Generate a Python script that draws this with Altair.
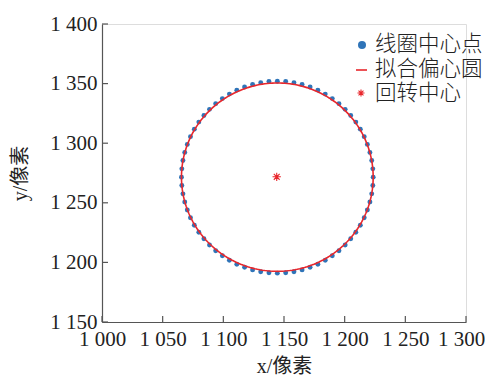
import altair as alt
import pandas as pd
import numpy as np

# 线圈中心点 (coil centre points)
pts_x = [1223.5, 1223.2, 1222.3, 1220.8, 1218.7, 1216.1, 1212.9, 1209.2, 1205.0, 1200.4,
         1195.3, 1189.8, 1184.0, 1177.9, 1171.5, 1164.9, 1158.2, 1151.4,
         1144.5, 1137.6, 1130.8, 1124.1, 1117.5, 1111.1, 1105.0, 1099.2, 1093.7,
         1088.6, 1084.0, 1079.8, 1076.1, 1072.9, 1070.3, 1068.2, 1066.7, 1065.8,
         1065.5, 1065.8, 1066.7, 1068.2, 1070.3, 1072.9, 1076.1, 1079.8, 1084.0,
         1088.6, 1093.7, 1099.2, 1105.0, 1111.1, 1117.5, 1124.1, 1130.8, 1137.6,
         1144.5, 1151.4, 1158.2, 1164.9, 1171.5, 1177.9, 1184.0, 1189.8, 1195.3,
         1200.4, 1205.0, 1209.2, 1212.9, 1216.1, 1218.7, 1220.8, 1222.3, 1223.2]
pts_y = [1271.5, 1278.5, 1285.5, 1292.3, 1299.0, 1305.5, 1311.8, 1317.7, 1323.2, 1328.4,
         1333.2, 1337.4, 1341.2, 1344.5, 1347.1, 1349.3, 1350.8, 1351.7,
         1352.0, 1351.7, 1350.8, 1349.3, 1347.1, 1344.5, 1341.2, 1337.4, 1333.2,
         1328.4, 1323.2, 1317.7, 1311.8, 1305.5, 1299.0, 1292.3, 1285.5, 1278.5,
         1271.5, 1264.5, 1257.5, 1250.7, 1244.0, 1237.5, 1231.2, 1225.3, 1219.8,
         1214.6, 1209.8, 1205.6, 1201.8, 1198.5, 1195.9, 1193.7, 1192.2, 1191.3,
         1191.0, 1191.3, 1192.2, 1193.7, 1195.9, 1198.5, 1201.8, 1205.6, 1209.8,
         1214.6, 1219.8, 1225.3, 1231.2, 1237.5, 1244.0, 1250.7, 1257.5, 1264.5]

# 拟合偏心圆 (fitted circle) parameters
fit_cx = 1144.5
fit_cy = 1271.5
fit_r = 79.0

# 回转中心 (rotation centre)
rot_x = [1144.0]
rot_y = [1271.8]

x_ticks = [1000, 1050, 1100, 1150, 1200, 1250, 1300]
y_ticks = [1150, 1200, 1250, 1300, 1350, 1400]
legend_labels = ["线圈中心点", "拟合偏心圆", "回转中心"]

BLUE = "#2f74b8"
RED = "#e8272c"
AXC = "#555555"
TXT = "#222222"
FONT = "Liberation Serif, Noto Sans CJK SC"
W, H = 364, 298

pts = pd.DataFrame({"x": pts_x, "y": pts_y})
t = np.linspace(0, 2 * np.pi, 241)
circ = pd.DataFrame({"x": fit_cx + fit_r * np.cos(t), "y": fit_cy + fit_r * np.sin(t), "i": np.arange(len(t))})
rot = pd.DataFrame({"x": rot_x, "y": rot_y})
xt = pd.DataFrame({"v": x_ticks})
yt = pd.DataFrame({"v": y_ticks})

label_expr = "replace(format(datum.value, ','), ',', ' ')"

xscale = alt.Scale(domain=[1000, 1300], nice=False, zero=False)
yscale = alt.Scale(domain=[1150, 1400], nice=False, zero=False)

xaxis = alt.Axis(values=x_ticks, labelExpr=label_expr, ticks=False, tickSize=0, grid=False,
                 labelOverlap=False, labelFlush=False,
                 labelOffset={"condition": {"test": "datum.value == 1300", "value": -5}, "value": 0},
                 domainColor=AXC, domainWidth=1.2, labelFont=FONT, labelFontSize=21, labelColor=TXT,
                 labelPadding=6, title="x/像素", titleFont=FONT, titleFontSize=20,
                 titleFontWeight="normal", titleColor=TXT, titleX=W / 2, titleY=44,
                 titleBaseline="middle", titleAlign="center")
yaxis = alt.Axis(values=y_ticks, labelExpr=label_expr, ticks=False, tickSize=0, grid=False,
                 labelOverlap=False, labelFlush=False,
                 domainColor=AXC, domainWidth=1.2, labelFont=FONT, labelFontSize=21, labelColor=TXT,
                 labelPadding=5, labelBaseline="middle", title="y/像素", titleFont=FONT, titleFontSize=20,
                 titleFontWeight="normal", titleColor=TXT, titleX=-82, titleY=H / 2,
                 titleBaseline="middle", titleAlign="center", titleAngle=-90)

X = alt.X("x:Q", scale=xscale, axis=xaxis)
Y = alt.Y("y:Q", scale=yscale, axis=yaxis)

dots = alt.Chart(pts).mark_circle(size=24, color=BLUE, opacity=1).encode(x=X, y=Y)
line = alt.Chart(circ).mark_line(color=RED, strokeWidth=1.6).encode(
    x=alt.X("x:Q", scale=xscale), y=alt.Y("y:Q", scale=yscale), order="i:Q")
AST = "M-1,0L1,0M0,-1L0,1M-0.7,-0.7L0.7,0.7M-0.7,0.7L0.7,-0.7"
star = alt.Chart(rot).mark_point(shape=AST, size=70, stroke=RED, strokeWidth=1.1, filled=False, opacity=1).encode(
    x=alt.X("x:Q", scale=xscale), y=alt.Y("y:Q", scale=yscale))

xticks = alt.Chart(xt).mark_rule(color=AXC, strokeWidth=1.2).encode(
    x=alt.X("v:Q", scale=xscale), y=alt.value(H), y2=alt.value(H - 6))
yticks = alt.Chart(yt).mark_rule(color=AXC, strokeWidth=1.2).encode(
    y=alt.Y("v:Q", scale=yscale), x=alt.value(0), x2=alt.value(6))

leg_dot = alt.Chart(pts.head(1)).mark_circle(size=64, color=BLUE, opacity=1).encode(
    x=alt.value(260), y=alt.value(21))
leg_line = alt.Chart(pts.head(1)).mark_rule(color=RED, strokeWidth=1.6).encode(
    x=alt.value(254), x2=alt.value(265), y=alt.value(46))
leg_star = alt.Chart(pts.head(1)).mark_point(shape=AST, size=50, stroke=RED, strokeWidth=1.1, filled=False, opacity=1).encode(
    x=alt.value(259), y=alt.value(69))
leg_text = [
    alt.Chart(pts.head(1)).mark_text(align="left", baseline="middle", font=FONT, fontSize=21.5,
                                     fontWeight=300, color=TXT).encode(
        x=alt.value(273), y=alt.value(yy), text=alt.value(lab))
    for lab, yy in zip(legend_labels, [21, 46, 70])
]

chart = alt.layer(dots, line, star, xticks, yticks, leg_dot, leg_line, leg_star, *leg_text).properties(
    width=W, height=H,
    autosize=alt.AutoSizeParams(type="none"),
    padding={"left": 94, "top": 16, "right": 19, "bottom": 55},
).configure_view(stroke=None).configure(background="white")

chart.save("out.html", embed_options={"renderer": "svg", "actions": False})
